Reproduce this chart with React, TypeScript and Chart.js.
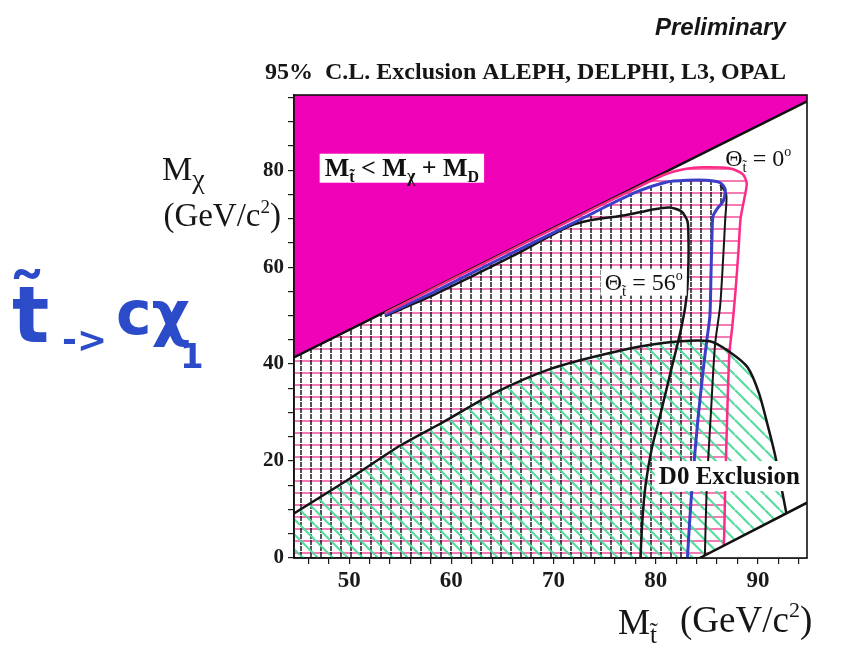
import React, { useEffect, useRef } from 'react';
import { Chart, registerables } from 'chart.js';

Chart.register(...registerables);

// ---- axes (GeV/c^2) ----
const X_MIN = 44.6;
const X_MAX = 94.8;
const Y_MIN = 0;
const Y_MAX = 95.5;

const xTickValues = [46, 48, 50, 52, 54, 56, 58, 60, 62, 64, 66, 68, 70, 72, 74, 76, 78, 80, 82, 84, 86, 88, 90, 92, 94];
const xTickLabels = [50, 60, 70, 80, 90];
const yTickValues = [0, 5, 10, 15, 20, 25, 30, 35, 40, 45, 50, 55, 60, 65, 70, 75, 80, 85, 90, 95];
const yTickLabels = [0, 20, 40, 60, 80];

// ---- kinematic limit  M_stop = M_chi + M_D ----
const kinStop = [44.6, 94.8];
const kinChi = [41.4, 94.2];

// ---- four-body limit (lower right corner) ----
const fourBodyStop = [84.3, 94.8];
const fourBodyChi = [0, 11.4];

// ---- LEP combined exclusion, mixing angle 0 deg (pink) ----
const theta0Stop = [53.5, 58, 62, 66, 70, 74, 78, 81, 83, 84.5, 87.2, 88.5, 88.9, 88.7, 88.3, 88.1, 87.8, 87.5, 87.2, 87.0, 86.8, 86.7, 86.6];
const theta0Chi = [50.5, 55.3, 59.5, 63.7, 67.9, 72.1, 76.2, 79.2, 80.3, 80.6, 80.4, 79.2, 77.3, 74.5, 70.0, 63.5, 55.0, 48.0, 42.0, 30.0, 15.0, 5.0, 0];

// ---- second exclusion contour (blue) ----
const blueStop = [53.5, 58, 62, 66, 70, 74, 78, 81, 83, 85, 86.3, 86.8, 86.6, 86.0, 85.6, 85.5, 85.4, 85.3, 85.0, 84.6, 84.1, 83.6, 83.3, 83.1];
const blueChi = [50.1, 54.6, 58.8, 63.0, 67.1, 71.3, 75.4, 77.5, 77.9, 77.9, 77.4, 76.0, 73.6, 72.0, 70.5, 66.0, 58.0, 50.0, 45.0, 38.0, 28.0, 16.0, 7.0, 0];

// ---- black contour alongside the blue one ----
const edgeStop = [86.3, 86.9, 86.8, 86.6, 86.3, 85.8, 85.4, 85.0, 84.8];
const edgeChi = [77.0, 75.0, 70.0, 62.0, 52.0, 44.0, 30.0, 15.0, 0];

// ---- mixing angle 56 deg (black) ----
const theta56Stop = [53.5, 58, 62, 66, 70, 72, 74, 77, 79.5, 81.3, 82.5, 83.1, 83.2, 83.2, 83.1, 82.9, 82.5, 82.0, 81.3, 80.5, 79.6, 79.0, 78.7, 78.5];
const theta56Chi = [49.9, 54.0, 58.1, 62.3, 66.8, 68.8, 69.8, 70.7, 71.8, 72.3, 71.5, 69.5, 66.0, 61.0, 56.0, 52.0, 47.5, 43.0, 37.0, 30.0, 22.5, 15.0, 8.0, 0];

// ---- D0 exclusion (green hatched) ----
const d0Stop = [44.6, 50, 55, 59, 64.2, 69.7, 75.5, 80.5, 85.3, 87.3, 89.0, 90.1, 91.0, 91.7, 92.3, 92.8];
const d0Chi = [9.2, 16.3, 23.2, 27.8, 34.0, 39.0, 42.3, 44.3, 44.7, 42.4, 39.3, 34.0, 27.0, 21.0, 14.5, 9.0];

// ---- label anchors (data coordinates: left edge, vertical centre) ----
const kinLabelAt = [47.6, 80.4];
const theta56LabelAt = [75.0, 56.9];
const theta0LabelAt = [86.8, 82.5];
const d0LabelAt = [80.3, 16.9];

const SERIF = "'Liberation Serif', 'Times New Roman', serif";
const MAGENTA = '#ef02b8';

type Pt = { x: number; y: number };
const zip = (xs: number[], ys: number[]): Pt[] => xs.map((x, i) => ({ x, y: ys[i] }));

// closed outline: corner points before/after a contour
function polygon(xs: number[], ys: number[], head: Pt[], tail: Pt[]): Pt[] {
  const pts = [...head, ...zip(xs, ys), ...tail];
  return [...pts, pts[0]];
}

type Run = { text: string; size: number; dy?: number; style?: string; weight?: string };

function setFont(ctx: CanvasRenderingContext2D, r: Run, family: string) {
  ctx.font = `${r.style || 'normal'} ${r.weight || 'normal'} ${r.size}px ${family}`;
}

function runsWidth(ctx: CanvasRenderingContext2D, runs: Run[], family: string) {
  let w = 0;
  for (const r of runs) {
    setFont(ctx, r, family);
    w += ctx.measureText(r.text).width;
  }
  return w;
}

function drawRuns(ctx: CanvasRenderingContext2D, runs: Run[], x: number, y: number, family: string) {
  let cx = x;
  ctx.textAlign = 'left';
  ctx.textBaseline = 'alphabetic';
  for (const r of runs) {
    setFont(ctx, r, family);
    ctx.fillText(r.text, cx, y + (r.dy || 0));
    cx += ctx.measureText(r.text).width;
  }
  return cx - x;
}

function makePattern(w: number, h: number, paint: (c: CanvasRenderingContext2D) => void) {
  const cv = document.createElement('canvas');
  cv.width = w;
  cv.height = h;
  const c = cv.getContext('2d')!;
  paint(c);
  return c.createPattern(cv, 'repeat')!;
}

const B = 'bold';
const kinRuns: Run[] = [
  { text: 'M', size: 26, weight: B },
  { text: 't\u0303', size: 16, dy: 6, weight: B },
  { text: ' < M', size: 26, weight: B },
  { text: '\u03c7', size: 18, dy: 6, weight: B },
  { text: ' + M', size: 26, weight: B },
  { text: 'D', size: 16, dy: 6, weight: B },
];
const theta56Runs: Run[] = [
  { text: '\u0398', size: 24 },
  { text: 't\u0303', size: 15, dy: 6 },
  { text: ' = 56', size: 24 },
  { text: 'o', size: 14, dy: -10 },
];
const theta0Runs: Run[] = [
  { text: '\u0398', size: 24 },
  { text: 't\u0303', size: 15, dy: 6 },
  { text: ' = 0', size: 24 },
  { text: 'o', size: 14, dy: -10 },
];
const d0Runs: Run[] = [{ text: 'D0 Exclusion', size: 25, weight: B }];

const annotationPlugin = {
  id: 'annotations',
  afterDatasetsDraw(chart: any) {
    const { ctx, chartArea: a, scales } = chart;
    const px = (v: number) => scales.x.getPixelForValue(v);
    const py = (v: number) => scales.y.getPixelForValue(v);
    ctx.save();
    ctx.beginPath();
    ctx.rect(a.left, a.top, a.right - a.left, a.bottom - a.top);
    ctx.clip();

    const boxed = (runs: Run[], at: number[], padL: number, padR: number, h: number) => {
      const x0 = px(at[0]);
      const yc = py(at[1]);
      const w = runsWidth(ctx, runs, SERIF);
      ctx.fillStyle = '#ffffff';
      ctx.fillRect(x0 - padL, yc - h / 2, w + padL + padR, h);
      ctx.fillStyle = '#111111';
      drawRuns(ctx, runs, x0, yc + 8, SERIF);
    };
    boxed(kinRuns, kinLabelAt, 5, 5, 29);
    boxed(theta56Runs, theta56LabelAt, 4, 4, 27);
    boxed(d0Runs, d0LabelAt, 4, 12, 30);

    ctx.fillStyle = '#111111';
    drawRuns(ctx, theta0Runs, px(theta0LabelAt[0]), py(theta0LabelAt[1]) + 8, SERIF);
    ctx.restore();

    // frame
    ctx.save();
    ctx.strokeStyle = '#111111';
    ctx.lineWidth = 1.6;
    ctx.strokeRect(a.left, a.top, a.right - a.left, a.bottom - a.top);
    ctx.restore();
  },
  afterDraw(chart: any) {
    const ctx: CanvasRenderingContext2D = chart.ctx;
    ctx.save();
    ctx.fillStyle = '#161616';
    // headings
    drawRuns(ctx, [{ text: 'Preliminary', size: 24, style: 'italic', weight: B }], 655, 35, "'Liberation Sans', Arial, sans-serif");
    drawRuns(ctx, [{ text: '95%  C.L. Exclusion ALEPH, DELPHI, L3, OPAL', size: 24, weight: B }], 265, 79, SERIF);

    // y axis title
    drawRuns(ctx, [{ text: 'M', size: 34 }, { text: '\u03c7', size: 28, dy: 8 }], 162, 180, SERIF);
    const gy: Run[] = [{ text: '(GeV/c', size: 33 }, { text: '2', size: 19, dy: -13 }, { text: ')', size: 33 }];
    drawRuns(ctx, gy, 281 - runsWidth(ctx, gy, SERIF), 226, SERIF);

    // x axis title
    drawRuns(ctx, [{ text: 'M', size: 36 }, { text: 't\u0303', size: 25, dy: 9 }], 618, 634, SERIF);
    drawRuns(ctx, [{ text: '(GeV/c', size: 37 }, { text: '2', size: 22, dy: -15 }, { text: ')', size: 37 }], 680, 632, SERIF);

    // hand annotation: stop -> c chi_1
    ctx.fillStyle = '#2b4bc9';
    const HAND = "'DejaVu Sans', sans-serif";
    drawRuns(ctx, [{ text: 't\u0303', size: 78, weight: B }], 12, 342, HAND);
    drawRuns(ctx, [{ text: '->', size: 36, weight: B }], 62, 352, HAND);
    drawRuns(ctx, [{ text: 'c\u03c7', size: 60, weight: B }], 116, 334, HAND);
    drawRuns(ctx, [{ text: '1', size: 34, weight: B }], 180, 368, HAND);
    ctx.restore();
  },
};

export default function App() {
  const ref = useRef<HTMLCanvasElement | null>(null);

  useEffect(() => {
    const canvas = ref.current;
    if (!canvas) return;

    const pinkHatch = makePattern(4, 12, (c) => {
      c.fillStyle = 'rgba(244, 100, 168, 0.85)';
      c.fillRect(0, 0, 4, 2);
    });
    const gridHatch = makePattern(10, 6, (c) => {
      c.fillStyle = 'rgba(25, 25, 40, 0.75)';
      c.fillRect(0, 0, 2, 5);
    });
    const greenHatch = makePattern(15, 15, (c) => {
      c.strokeStyle = 'rgba(80, 218, 156, 0.95)';
      c.lineWidth = 2.2;
      for (const k of [-15, 0, 15]) {
        c.beginPath();
        c.moveTo(0, k);
        c.lineTo(15, 15 + k);
        c.stroke();
      }
    });

    const region = (pts: Pt[], pattern: CanvasPattern) => ({
      data: pts,
      showLine: true,
      pointRadius: 0,
      borderWidth: 0,
      borderColor: 'rgba(0,0,0,0)',
      backgroundColor: pattern,
      fill: 'shape',
      tension: 0,
    });
    const curve = (xs: number[], ys: number[], color: string, width: number) => ({
      data: zip(xs, ys),
      showLine: true,
      pointRadius: 0,
      borderColor: color,
      borderWidth: width,
      fill: false,
      tension: 0.25,
    });

    // listed bottom layer first
    const layers: any[] = [
      region(polygon(theta0Stop, theta0Chi, [{ x: X_MIN, y: 0 }, { x: X_MIN, y: theta0Chi[0] }], []), pinkHatch),
      region(polygon(blueStop, blueChi, [{ x: X_MIN, y: 0 }, { x: X_MIN, y: blueChi[0] }], []), gridHatch),
      region(polygon(d0Stop, d0Chi, [{ x: X_MIN, y: 0 }], [{ x: d0Stop[d0Stop.length - 1], y: 0 }]), greenHatch),
      {
        data: zip(kinStop, kinChi),
        showLine: true,
        pointRadius: 0,
        borderColor: '#111111',
        borderWidth: 2.5,
        backgroundColor: MAGENTA,
        fill: 'end',
      },
      curve(theta56Stop, theta56Chi, '#151515', 2.5),
      curve(edgeStop, edgeChi, '#151515', 2),
      curve(blueStop, blueChi, '#3a3fc6', 3),
      curve(theta0Stop, theta0Chi, '#ff2a88', 2.5),
      curve(d0Stop, d0Chi, '#151515', 2.5),
      {
        data: zip(fourBodyStop, fourBodyChi),
        showLine: true,
        pointRadius: 0,
        borderColor: '#111111',
        borderWidth: 2.5,
        backgroundColor: '#ffffff',
        fill: 'start',
      },
    ];
    layers.forEach((d, i) => (d.order = layers.length - i));

    const tickFont = (size: number) => ({ family: SERIF, size, weight: 'bold' as const });

    const chart = new Chart(canvas, {
      type: 'scatter',
      data: { datasets: layers },
      options: {
        responsive: false,
        devicePixelRatio: 1,
        animation: false,
        events: [],
        layout: { padding: { left: 234, right: 36, top: 95, bottom: 42 } },
        plugins: { legend: { display: false }, tooltip: { enabled: false }, title: { display: false } },
        scales: {
          x: {
            type: 'linear',
            min: X_MIN,
            max: X_MAX,
            afterBuildTicks: (s: any) => {
              s.ticks = xTickValues.map((value) => ({ value }));
            },
            afterFit: (s: any) => {
              s.height = 45;
            },
            ticks: {
              autoSkip: false,
              maxRotation: 0,
              padding: 3,
              color: '#1a1a1a',
              font: tickFont(23),
              callback: (v: any) => (xTickLabels.includes(Number(v)) ? String(v) : ''),
            },
            grid: { drawOnChartArea: false, drawTicks: true, tickLength: 6, color: '#1a1a1a', lineWidth: 1.2 },
            border: { display: true, color: '#111111', width: 1.6 },
          },
          y: {
            type: 'linear',
            min: Y_MIN,
            max: Y_MAX,
            afterBuildTicks: (s: any) => {
              s.ticks = yTickValues.map((value) => ({ value }));
            },
            afterFit: (s: any) => {
              s.width = 60;
            },
            ticks: {
              autoSkip: false,
              padding: 4,
              color: '#1a1a1a',
              font: tickFont(21),
              callback: (v: any) => (yTickLabels.includes(Number(v)) ? String(v) : ''),
            },
            grid: { drawOnChartArea: false, drawTicks: true, tickLength: 6, color: '#1a1a1a', lineWidth: 1.2 },
            border: { display: true, color: '#111111', width: 1.6 },
          },
        },
      },
      plugins: [annotationPlugin],
    } as any);

    return () => chart.destroy();
  }, []);

  return (
    <div style={{ position: 'absolute', left: 0, top: 0, width: 843, height: 645, background: '#ffffff' }}>
      <canvas ref={ref} width={843} height={645} style={{ width: 843, height: 645, display: 'block' }} />
    </div>
  );
}
